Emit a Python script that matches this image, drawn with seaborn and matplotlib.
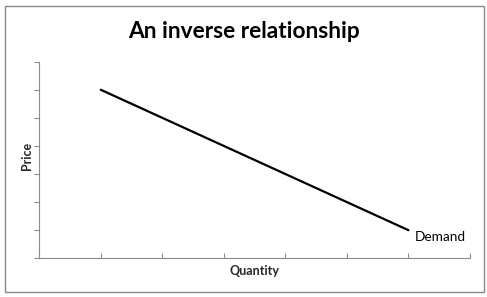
import matplotlib
matplotlib.use("Agg")
import matplotlib.pyplot as plt
from matplotlib.patches import Rectangle
import seaborn as sns
import pandas as pd

quantity = [1, 6]
price = [6, 1]
x_ticks = [0, 1, 2, 3, 4, 5, 6, 7]
y_ticks = [0, 1, 2, 3, 4, 5, 6, 7]
title = "An inverse relationship"
series_label = "Demand"

sns.set_theme(style="white")
plt.rcParams['font.family'] = ['Lato', 'DejaVu Sans']

df = pd.DataFrame({"Quantity": quantity, "Price": price})

fig = plt.figure(figsize=(4.87, 2.97), dpi=100)
ax = fig.add_axes([39.3 / 487, 1 - 258.3 / 297, (470 - 39.3) / 487, (258.3 - 61.7) / 297])

sns.lineplot(data=df, x="Quantity", y="Price", ax=ax, color="black", linewidth=1.6)

ax.set_xlim(x_ticks[0], x_ticks[-1])
ax.set_ylim(y_ticks[0], y_ticks[-1])
ax.set_xticks(x_ticks)
ax.set_yticks(y_ticks)
ax.set_xticklabels([])
ax.set_yticklabels([])

axis_color = "#8c8c8c"
for side in ["top", "right"]:
    ax.spines[side].set_visible(False)
for side in ["left", "bottom"]:
    ax.spines[side].set_color(axis_color)
    ax.spines[side].set_linewidth(0.8)

ax.tick_params(axis="x", direction="in", length=3.5, width=0.8, color=axis_color, bottom=True)
ax.tick_params(axis="y", direction="out", length=3.5, width=0.8, color=axis_color, left=True)

ax.set_xlabel("Quantity", fontsize=9, fontweight="bold")
ax.set_ylabel("Price", fontsize=9, fontweight="bold")
ax.xaxis.set_label_coords(0.5, -0.036)
ax.yaxis.set_label_coords(-0.0150, 0.52)

ax.text(quantity[-1] + 0.1, price[-1] - 0.25, series_label, fontsize=9.8,
        ha="left", va="center", color="black")

fig.text(244 / 487, 1 - 32 / 297, title, fontsize=16.3, fontweight="bold",
         ha="center", va="center", color="black")

border = Rectangle((4.7 / 487, 1 - 291.5 / 297), (484.3 - 4.7) / 487, (291.5 - 5.7) / 297,
                   transform=fig.transFigure, fill=False, edgecolor="#888888", linewidth=1.0)
fig.patches.append(border)

fig.savefig("out.png", dpi=100, facecolor="white")
